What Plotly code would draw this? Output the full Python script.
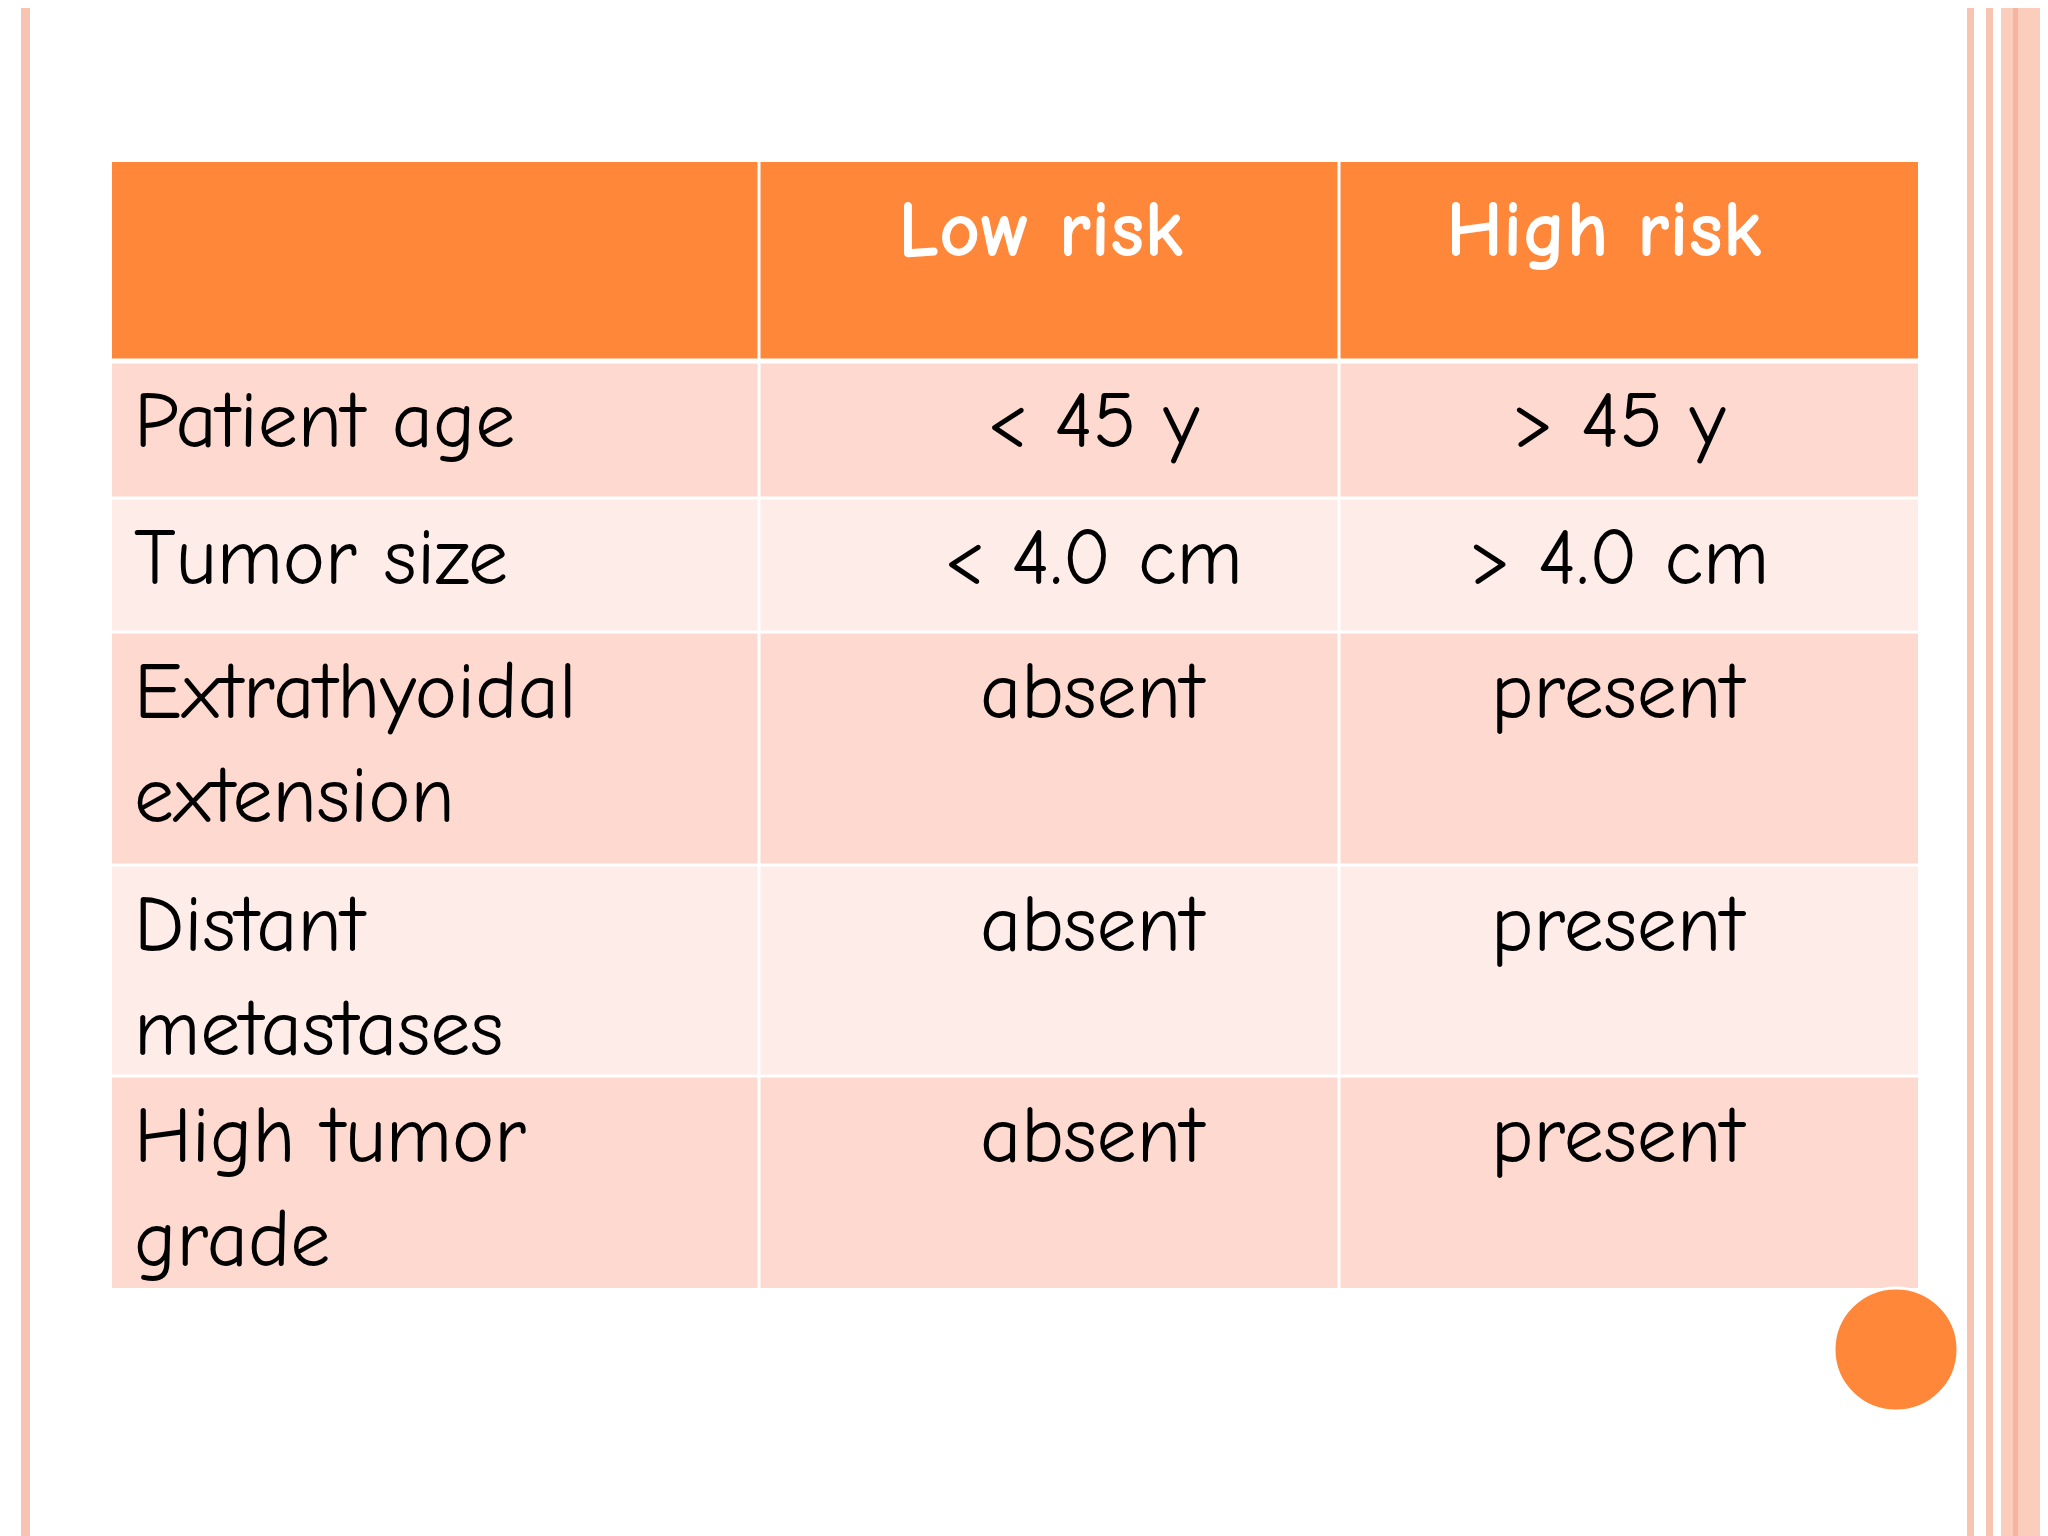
import plotly.graph_objects as go

# ── Table content ────────────────────────────────────────────────
HEADERS = ["", "Low risk", "High risk"]
ROW_LABELS = ["Patient age", "Tumor size", "Extrathyoidal<br>extension",
              "Distant<br>metastases", "High tumor<br>grade"]
LOW_RISK = ["&lt; 45 y", "&lt; 4.0 cm", "absent", "absent", "absent"]
HIGH_RISK = ["&gt; 45 y", "&gt; 4.0 cm", "present", "present", "present"]

# ── Geometry (pixels, 2048x1536 page) ───────────────────────────
COL_EDGES = [104, 751, 1331, 1910]
ROW_EDGES = [154, 353, 490, 624, 857, 1068, 1280]
TEXT_X = [124, 1085, 1610]
HEADER_X = [0, 1032, 1596]

ORANGE = "#FF873A"
ROW_FILLS = ["#FDD9CF", "#FDECE8"]
FONT = "Comic Neue, Comic Sans MS, Open Sans, sans-serif"

fig = go.Figure()
shapes, annotations = [], []

# header row
shapes.append(dict(type="rect", x0=COL_EDGES[0], x1=COL_EDGES[-1],
                   y0=ROW_EDGES[0], y1=ROW_EDGES[1], fillcolor=ORANGE, line_width=0, layer="below"))
for i, h in enumerate(HEADERS[1:], start=1):
    annotations.append(dict(x=HEADER_X[i], y=ROW_EDGES[0] + 20, text=f"<b>{h}</b>",
                            xanchor="center", yanchor="top", showarrow=False,
                            font=dict(family=FONT, size=80, color="white")))

# body rows
for r in range(len(ROW_LABELS)):
    y0, y1 = ROW_EDGES[r + 1], ROW_EDGES[r + 2]
    shapes.append(dict(type="rect", x0=COL_EDGES[0], x1=COL_EDGES[-1], y0=y0, y1=y1,
                       fillcolor=ROW_FILLS[r % 2], line_width=0, layer="below"))
    for c, (txt, anchor) in enumerate([(ROW_LABELS[r], "left"),
                                       (LOW_RISK[r], "center"),
                                       (HIGH_RISK[r], "center")]):
        annotations.append(dict(x=TEXT_X[c], y=y0 + 12, text=txt, xanchor=anchor,
                                yanchor="top", align="left", showarrow=False,
                                font=dict(family=FONT, size=80, color="black")))

# white grid lines
for x in COL_EDGES[1:-1]:
    shapes.append(dict(type="line", x0=x, x1=x, y0=ROW_EDGES[0], y1=ROW_EDGES[-1],
                       line=dict(color="white", width=3)))
for y in ROW_EDGES[1:-1]:
    shapes.append(dict(type="line", x0=COL_EDGES[0], x1=COL_EDGES[-1], y0=y, y1=y,
                       line=dict(color="white", width=5 if y == ROW_EDGES[1] else 3)))

# slide decoration
shapes += [
    dict(type="rect", x0=13, x1=22, y0=0, y1=1536, fillcolor="#F9C3B1", line_width=0),
    dict(type="rect", x0=1959, x1=1966, y0=0, y1=1536, fillcolor="#F9C3B1", line_width=0),
    dict(type="rect", x0=1978, x1=1985, y0=0, y1=1536, fillcolor="#F9C3B1", line_width=0),
    dict(type="rect", x0=1993, x1=2048, y0=0, y1=1536, fillcolor="#FBCDBD", line_width=0),
    dict(type="rect", x0=2005, x1=2010, y0=0, y1=1536, fillcolor="#F7B49F", line_width=0),
    dict(type="circle", x0=1826, x1=1950, y0=1280, y1=1403, fillcolor=ORANGE,
         line=dict(color="white", width=3)),
]

fig.update_layout(
    width=2048, height=1536, margin=dict(l=0, r=0, t=0, b=0),
    paper_bgcolor="white", plot_bgcolor="white",
    xaxis=dict(range=[0, 2048], visible=False, fixedrange=True),
    yaxis=dict(range=[1536, 0], visible=False, fixedrange=True),
    shapes=shapes, annotations=annotations, showlegend=False,
)

fig.write_html("out.html")
